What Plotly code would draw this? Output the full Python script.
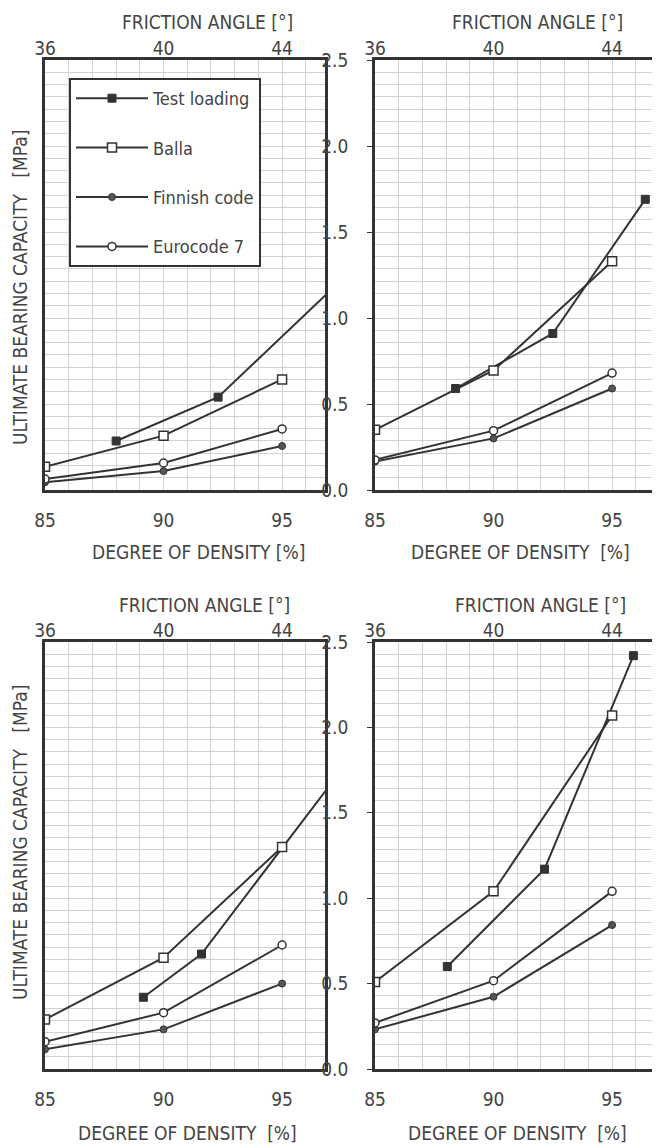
import plotly.graph_objects as go

# ---------------- data ----------------
density = [85, 90, 95]

# panel order: top-left, top-right, bottom-left, bottom-right
test_x = [[88.0, 92.3, 97.5], [88.4, 92.5, 96.4], [89.15, 91.6, 97.5], [88.05, 92.15, 95.9]]
test_y = [[0.285, 0.54, 1.22], [0.59, 0.91, 1.69], [0.42, 0.673, 1.75], [0.60, 1.17, 2.42]]
balla = [[0.135, 0.316, 0.643], [0.35, 0.695, 1.33], [0.29, 0.652, 1.30], [0.51, 1.04, 2.07]]
finnish = [[0.045, 0.11, 0.256], [0.165, 0.30, 0.59], [0.115, 0.232, 0.50], [0.232, 0.423, 0.843]]
eurocode = [[0.064, 0.157, 0.355], [0.175, 0.345, 0.68], [0.16, 0.33, 0.726], [0.27, 0.517, 1.04]]

series_names = ["Test loading", "Balla", "Finnish code", "Eurocode 7"]
density_ticks = [85, 90, 95]
angle_ticks = [36, 40, 44]
y_ticks = [0.0, 0.5, 1.0, 1.5, 2.0, 2.5]

# ---------------- layout geometry ----------------
# the page places the figure 8 px in from the top-left corner of the window
OFF = 8
W, H = 660 - OFF, 1146 - OFF


def px(x):
    return (x - OFF) / W


def py(y):
    return 1 - (y - OFF) / H


FONT = "DejaVu Sans Condensed, Liberation Sans Narrow, DejaVu Sans, sans-serif"
INK = "#333333"
TXT = "#444444"
GRID = "#d2d2d2"

x_dens_range = [85, 96.81]
x_ang_range = [36 + (v - 85) * 0.8 for v in x_dens_range]

panels = [
    dict(x0=45, x1=325, y0=60, y1=490),
    dict(x0=375, x1=655, y0=60, y1=490),
    dict(x0=45, x1=325, y0=642, y1=1069),
    dict(x0=375, x1=655, y0=642, y1=1069),
]

fig = go.Figure()

line_style = dict(color=INK, width=2)
marker_styles = {
    "Test loading": dict(symbol="square", size=8, color=INK, line=dict(color=INK, width=1)),
    "Balla": dict(symbol="square", size=9, color="white", line=dict(color=INK, width=1.5)),
    "Finnish code": dict(symbol="circle", size=7, color="#555555", line=dict(color=INK, width=1)),
    "Eurocode 7": dict(symbol="circle", size=8, color="white", line=dict(color=INK, width=1.5)),
}

for i in range(4):
    xa = "x" if i == 0 else f"x{i+1}"
    ya = "y" if i == 0 else f"y{i+1}"
    data = {
        "Test loading": (test_x[i], test_y[i]),
        "Balla": (density, balla[i]),
        "Finnish code": (density, finnish[i]),
        "Eurocode 7": (density, eurocode[i]),
    }
    for name in series_names:
        xs, ys = data[name]
        fig.add_trace(go.Scatter(
            x=xs, y=ys, mode="lines+markers", name=name,
            line=line_style, marker=marker_styles[name],
            xaxis=xa, yaxis=ya, showlegend=(i == 0),
            legendgroup=name, cliponaxis=True,
        ))
    # invisible trace to hold the top (friction angle) axis
    fig.add_trace(go.Scatter(x=[x_ang_range[0]], y=[0], mode="markers",
                             marker=dict(opacity=0), showlegend=False,
                             hoverinfo="skip", xaxis=f"x{i+5}", yaxis=ya))

layout = dict(
    width=W, height=H,
    margin=dict(l=0, r=0, t=0, b=0, autoexpand=False),
    paper_bgcolor="white", plot_bgcolor="white",
    font=dict(family=FONT, size=19, color=TXT),
    showlegend=True,
    legend=dict(
        x=px(69), y=py(78), xanchor="left", yanchor="top",
        bgcolor="white", bordercolor=INK, borderwidth=2,
        font=dict(family=FONT, size=18, color=TXT),
        tracegroupgap=23, itemwidth=72,
    ),
)

for i, p in enumerate(panels):
    xk = "xaxis" if i == 0 else f"xaxis{i+1}"
    yk = "yaxis" if i == 0 else f"yaxis{i+1}"
    ya = "y" if i == 0 else f"y{i+1}"
    xa = "x" if i == 0 else f"x{i+1}"
    dom_x = [px(p["x0"]), px(p["x1"])]
    dom_y = [py(p["y1"]), py(p["y0"])]
    right = i in (1, 3)
    layout[xk] = dict(
        domain=dom_x, anchor=ya, range=x_dens_range, automargin=False,
        tickvals=density_ticks, ticks="", ticklabelstandoff=11,
        showgrid=True, gridcolor=GRID, gridwidth=1,
        minor=dict(dtick=1, tick0=85, showgrid=True, gridcolor=GRID, gridwidth=1),
        showline=True, linecolor=INK, linewidth=2.5, mirror=True,
        zeroline=False, tickfont=dict(size=19, color=TXT),
    )
    layout[yk] = dict(
        domain=dom_y, anchor=xa, range=[0, 2.5], automargin=False,
        tickvals=y_ticks, tickformat=".1f",
        showticklabels=right, ticks="outside" if right else "", ticklen=5,
        tickcolor=INK, ticklabelstandoff=15,
        showgrid=True, gridcolor=GRID, gridwidth=1,
        minor=dict(dtick=0.5 / 7, tick0=0, showgrid=True, gridcolor=GRID, gridwidth=1),
        showline=True, linecolor=INK, linewidth=2.5, mirror=True,
        zeroline=False, tickfont=dict(size=19, color=TXT),
    )
    layout[f"xaxis{i+5}"] = dict(
        overlaying=xa, anchor=ya, side="top", range=x_ang_range, automargin=False,
        tickvals=angle_ticks, ticks="", ticklabelstandoff=0,
        showgrid=False, showline=False, zeroline=False,
        tickfont=dict(size=19, color=TXT),
    )

fig.update_layout(**layout)

# axis titles as annotations
ann = []
top_titles = [(207, 22), (537, 22), (205, 605), (540, 605)]
bottom_titles = [(199, 552, "DEGREE OF DENSITY [%]"), (520, 552, "DEGREE OF DENSITY  [%]"),
                 (187, 1133, "DEGREE OF DENSITY  [%]"), (517, 1133, "DEGREE OF DENSITY  [%]")]
for (x, y) in top_titles:
    ann.append(dict(text="FRICTION ANGLE [°]", x=px(x), y=py(y), xref="paper", yref="paper",
                    showarrow=False, xanchor="center", yanchor="middle",
                    font=dict(family=FONT, size=19, color=TXT)))
for (x, y, t) in bottom_titles:
    ann.append(dict(text=t, x=px(x), y=py(y), xref="paper", yref="paper",
                    showarrow=False, xanchor="center", yanchor="middle",
                    font=dict(family=FONT, size=19, color=TXT)))
for yc in (288, 843):
    ann.append(dict(text="ULTIMATE BEARING CAPACITY   [MPa]", x=px(20), y=py(yc),
                    xref="paper", yref="paper", showarrow=False, textangle=-90,
                    xanchor="center", yanchor="middle",
                    font=dict(family=FONT, size=19, color=TXT)))
fig.update_layout(annotations=ann)

fig.write_html("out.html")
